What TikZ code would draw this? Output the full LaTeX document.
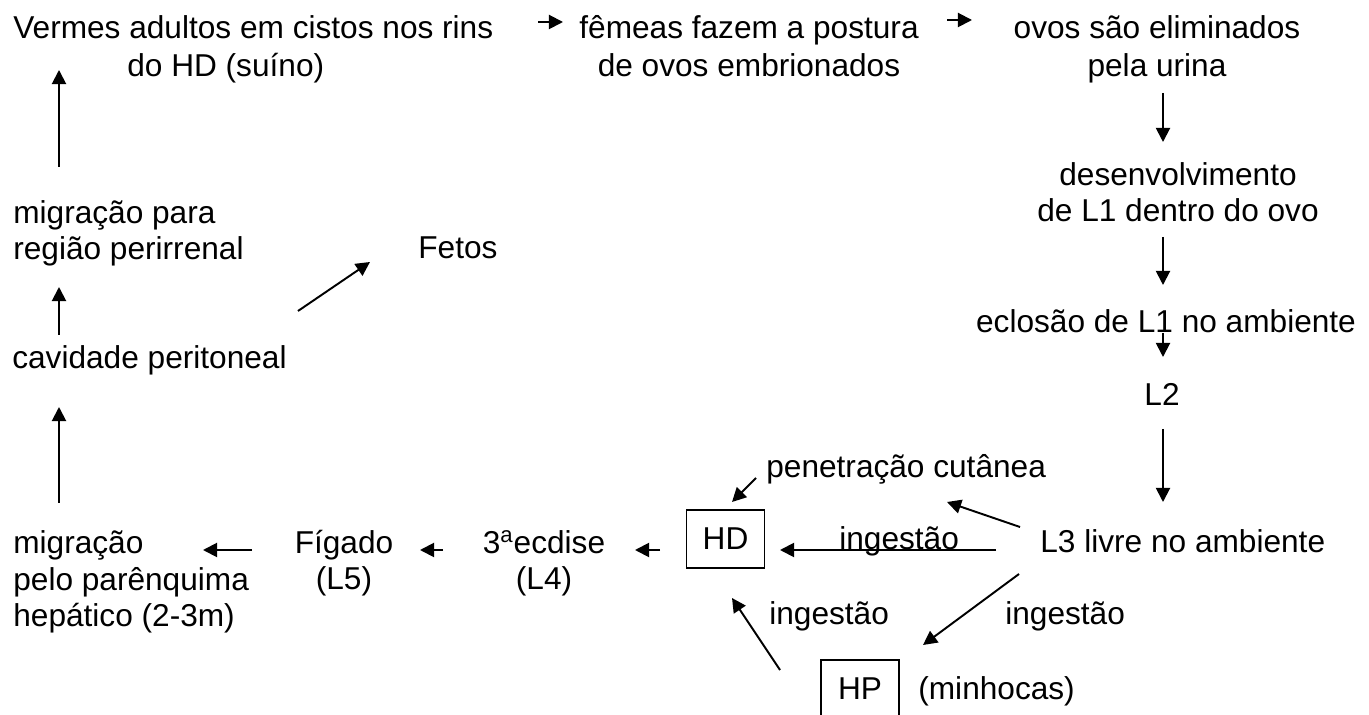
\documentclass[tikz,border=0pt]{standalone}
\usepackage{fontspec}
\setmainfont{Liberation Sans}
\usetikzlibrary{arrows.meta}

\begin{document}
\begin{tikzpicture}[
    x=0.02cm, y=-0.02cm,
    txt/.style={inner sep=0pt, font=\fontsize{18}{21}\selectfont},
    hostbox/.style={draw, line width=0.6pt, inner sep=0pt, minimum width=1.55cm,
                    minimum height=1.16cm, font=\fontsize{18}{21}\selectfont},
    arr/.style={-{Triangle[length=8pt, width=8pt]}, line width=1.1pt},
]
\useasboundingbox (0,0) rectangle (1369,715);

% --- Top row: adults -> eggs (base = last line) ---
\node[txt, anchor=base west, align=left] (vermes) at (13,77)
    {Vermes adultos em cistos nos rins\\[1pt]\hspace*{2.28cm}do HD (suíno)};
\node[txt, anchor=base, align=center] (femeas) at (749,77)
    {fêmeas fazem a postura\\[1pt]de ovos embrionados};
\node[txt, anchor=base, align=center] (ovos) at (1157,77)
    {ovos são eliminados\\[1pt]pela urina};

% --- Right column: free-living stages ---
\node[txt, anchor=base, align=center] (desenv) at (1178,222)
    {desenvolvimento\\de L1 dentro do ovo};
\node[txt, anchor=base] (eclosao) at (1166,333) {eclosão de L1 no ambiente};
\node[txt, anchor=base] (L2) at (1162,406) {L2};
\node[txt, anchor=base west] (L3) at (1040,553) {L3 livre no ambiente};

% --- Hosts and routes of infection ---
\node[txt, anchor=base west] (penet) at (766,478) {penetração cutânea};
\node[hostbox] (HD) at (725.5,539) {HD};
\node[txt, anchor=base west] (ingHD) at (839,550) {ingestão};
\node[txt, anchor=base west] (ingHP) at (769,625) {ingestão};
\node[txt, anchor=base west] (ingL3) at (1005,625) {ingestão};
\node[hostbox, minimum width=1.56cm] (HP) at (860,689) {HP};
\node[txt, anchor=base west] (minhoc) at (918,700) {(minhocas)};

% --- Bottom row: migration in the pig ---
\node[txt, anchor=base, align=center] (ecdise) at (544,590)
    {3\textsuperscript{a}ecdise\\(L4)};
\node[txt, anchor=base, align=center] (figado) at (344,590)
    {Fígado\\(L5)};
\node[txt, anchor=base west, align=left] (migpelo) at (13,627)
    {migração\\pelo parênquima\\hepático (2-3m)};

% --- Left column ---
\node[txt, anchor=base west] (cavid) at (12,369) {cavidade peritoneal};
\node[txt, anchor=base west, align=left] (migpara) at (13,260)
    {migração para\\região perirrenal};
\node[txt, anchor=base west] (fetos) at (418,259) {Fetos};

% arrow ends (gaps to the texts as in the figure)
\coordinate (vermesR) at (538,22);   \coordinate (femeasL) at (563,22);
\coordinate (femeasR) at (947,20);   \coordinate (ovosL)   at (972,20);
\coordinate (ovosB)   at (1163,93);  \coordinate (desenvT) at (1163,142);
\coordinate (desenvB) at (1163,237); \coordinate (eclosT)  at (1163,285);
\coordinate (eclosB)  at (1163,333); \coordinate (L2T)     at (1163,357);
\coordinate (L2B)     at (1163,429); \coordinate (L3T)     at (1163,502);
\coordinate (L3a)     at (1020,527); \coordinate (penetR)  at (947,502);
\coordinate (penetL)  at (756,478);  \coordinate (HDa)     at (732,502);
\coordinate (L3b)     at (996,550);  \coordinate (HDb)     at (780,550);
\coordinate (L3c)     at (1019,574); \coordinate (HPa)     at (923,645);
\coordinate (HPb)     at (780,670);  \coordinate (HDc)     at (732,598);
\coordinate (HDd)     at (660,550);  \coordinate (ecdiseR) at (635,550);
\coordinate (ecdiseL) at (443,550);  \coordinate (figadoR) at (420,550);
\coordinate (figadoL) at (252,550);  \coordinate (migpR)   at (203,550);
\coordinate (migpT)   at (59,503);   \coordinate (cavidB)  at (59,407);
\coordinate (cavidT)  at (59,335);   \coordinate (migaB)   at (59,287);
\coordinate (migaT)   at (59,167);   \coordinate (vermesB) at (59,70);
\coordinate (cavidR)  at (298,311);  \coordinate (fetosL)  at (370,262);

\draw[arr] (vermesR) -- (femeasL);
\draw[arr] (femeasR) -- (ovosL);
\draw[arr] (ovosB) -- (desenvT);
\draw[arr] (desenvB) -- (eclosT);
\draw[arr] (eclosB) -- (L2T);
\draw[arr] (L2B) -- (L3T);
\draw[arr] (L3a) -- (penetR);
\draw[arr] (penetL) -- (HDa);
\draw[arr] (L3b) -- (HDb);
\draw[arr] (L3c) -- (HPa);
\draw[arr] (HPb) -- (HDc);
\draw[arr] (HDd) -- (ecdiseR);
\draw[arr] (ecdiseL) -- (figadoR);
\draw[arr] (figadoL) -- (migpR);
\draw[arr] (migpT) -- (cavidB);
\draw[arr] (cavidT) -- (migaB);
\draw[arr] (migaT) -- (vermesB);
\draw[arr] (cavidR) -- (fetosL);

\end{tikzpicture}
\end{document}
